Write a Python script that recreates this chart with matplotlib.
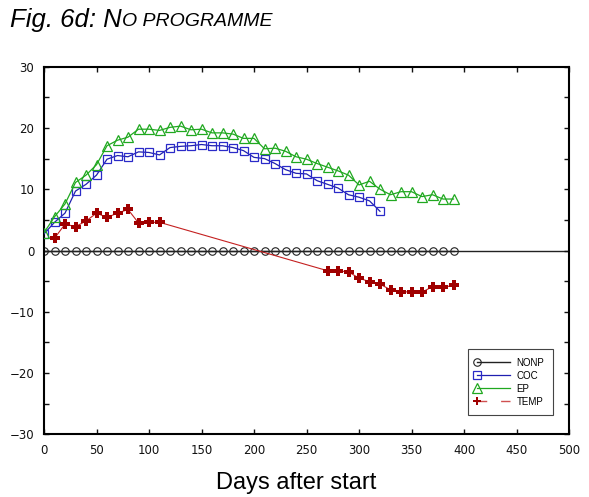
import matplotlib

matplotlib.use("Agg")

import matplotlib.pyplot as plt
from matplotlib.legend_handler import HandlerLine2D
from matplotlib.lines import Line2D
from matplotlib.ticker import MultipleLocator

# sampled every 10 days
nonp_days = list(range(0, 400, 10))
nonp = [0.0, 0.0, 0.0, 0.0, 0.0, 0.0, 0.0, 0.0, 0.0, 0.0,
        0.0, 0.0, 0.0, 0.0, 0.0, 0.0, 0.0, 0.0, 0.0, 0.0,
        0.0, 0.0, 0.0, 0.0, 0.0, 0.0, 0.0, 0.0, 0.0, 0.0,
        0.0, 0.0, 0.0, 0.0, 0.0, 0.0, 0.0, 0.0, 0.0, 0.0]

coc_days = list(range(0, 330, 10))
coc = [2.7, 4.6, 6.1, 9.7, 10.8, 12.3, 14.9, 15.5, 15.3, 16.1,
       16.0, 15.6, 16.8, 17.0, 17.1, 17.3, 17.1, 17.1, 16.8, 16.3,
       15.2, 15.0, 14.2, 13.2, 12.6, 12.5, 11.4, 10.8, 10.2, 9.1,
       8.7, 8.1, 6.4]

ep_days = list(range(0, 400, 10))
ep = [2.9, 5.5, 7.6, 11.1, 12.3, 14.0, 17.1, 18.0, 18.5, 19.8,
      19.8, 19.6, 20.1, 20.3, 19.7, 19.8, 19.2, 19.2, 19.0, 18.3,
      18.3, 16.6, 16.7, 16.2, 15.3, 14.9, 14.2, 13.6, 13.0, 12.3,
      10.7, 11.3, 10.0, 9.1, 9.6, 9.6, 8.8, 9.1, 8.4, 8.4]

temp_days = [10, 20, 30, 40, 50, 60, 70, 80, 90, 100, 110,
             270, 280, 290, 300, 310, 320, 330, 340, 350, 360, 370, 380, 390]
temp = [2.0, 4.3, 3.9, 4.8, 6.1, 5.4, 6.1, 6.7, 4.5, 4.6, 4.6,
        -3.3, -3.3, -3.5, -4.5, -5.1, -5.5, -6.4, -6.7, -6.8, -6.8, -5.9, -6.0, -5.7]


class MarkerAtStart(HandlerLine2D):
    # legend entry with the marker on the left end of the line
    def create_artists(self, *args, **kwargs):
        artists = super().create_artists(*args, **kwargs)
        artists[0].set_markevery([0])
        return artists


W, H = 589, 497
fig = plt.figure(figsize=(W / 100, H / 100), dpi=100)
ax = fig.add_axes([44 / W, 1 - 434.3 / H, 525 / W, 367.6 / H])

ax.axhline(0, color="#222222", lw=1.0, zorder=1)

l_nonp, = ax.plot(nonp_days, nonp, color="#222222", lw=1.0, marker="o", ms=5.4,
                  mfc="none", mec="#222222", mew=0.8, label="NONP", zorder=2)
l_coc, = ax.plot(coc_days, coc, color="#1f1fb0", lw=0.9, marker="s", ms=5.2,
                 mfc="none", mec="#2a2ac8", mew=0.9, label="COC", zorder=3)
l_ep, = ax.plot(ep_days, ep, color="#20a820", lw=0.9, marker="^", ms=6.5,
                mfc="none", mec="#20a820", mew=0.9, label="EP", zorder=3)
ax.plot(temp_days, temp, color="#c42020", lw=0.8, marker="P", ms=7.8,
        mfc="#a00000", mec="#a00000", mew=0, zorder=4)

temp_handle = Line2D([], [], color="#d05050", lw=1.0, ls=(0, (7, 10)), marker="P",
                     ms=6.0, mfc="#a00000", mec="#a00000", mew=0, label="TEMP")

ax.set_xlim(0, 500)
ax.set_ylim(-30, 30)
ax.xaxis.set_major_locator(MultipleLocator(50))
ax.yaxis.set_major_locator(MultipleLocator(10))
ax.yaxis.set_minor_locator(MultipleLocator(5))
ax.tick_params(which="both", direction="in", top=True, right=True,
               length=3.5, width=1.0, labelsize=8.5, colors="#111111")
ax.tick_params(axis="x", pad=7)
ax.tick_params(axis="y", pad=7)
for lab in ax.get_xticklabels() + ax.get_yticklabels():
    lab.set_family("DejaVu Sans")
for sp in ax.spines.values():
    sp.set_linewidth(1.5)

leg = ax.legend(
    handles=[l_nonp, l_coc, l_ep, temp_handle],
    handler_map={Line2D: MarkerAtStart(numpoints=1)},
    loc="upper right",
    bbox_to_anchor=(0.9695, 0.232),
    borderaxespad=0,
    prop={"family": "Liberation Sans", "size": 7},
    handlelength=3.4,
    handletextpad=0.7,
    labelspacing=0.3,
    borderpad=0.9,
    fancybox=False,
    framealpha=1,
    edgecolor="#444444",
)
leg.get_frame().set_linewidth(0.8)

# title with small caps for "No programme"
t1 = fig.text(10 / W, 1 - 27 / H, "Fig. 6d: N", fontsize=18.5, style="italic",
              family="Liberation Sans", va="baseline", ha="left")
ax.annotate("O PROGRAMME", xy=(1, 0), xycoords=t1, xytext=(0.5, 1.3),
            textcoords="offset points", fontsize=14, style="italic",
            family="Liberation Sans", va="bottom", ha="left", annotation_clip=False)

fig.text(296 / W, 1 - 489 / H, "Days after start", fontsize=17,
         family="Liberation Sans", ha="center", va="baseline")

fig.savefig("out.png", dpi=100, facecolor="white")
